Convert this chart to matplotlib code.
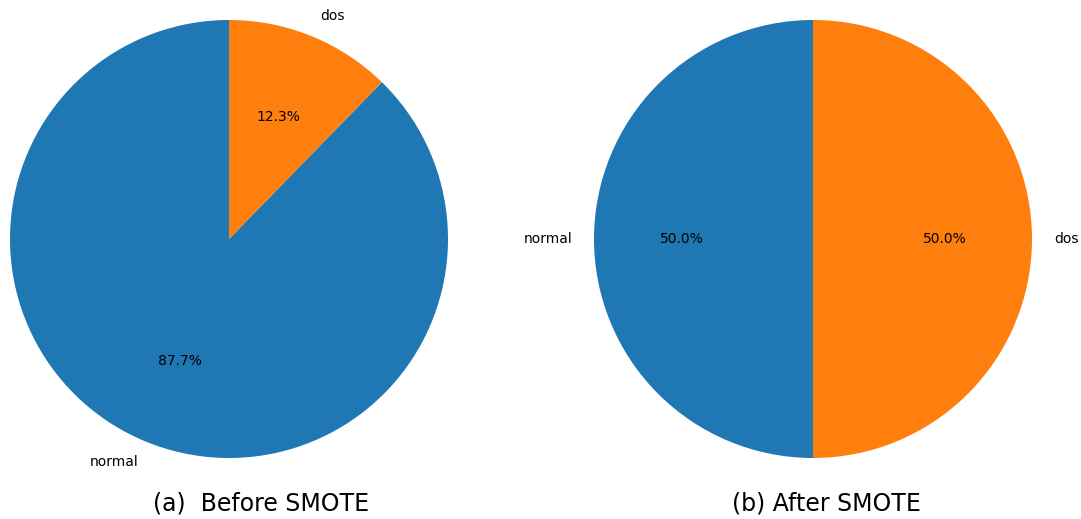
import matplotlib
matplotlib.use("Agg")
import matplotlib.pyplot as plt

# class counts as shares (percent)
labels = ["normal", "dos"]
before_smote = [87.7, 12.3]
after_smote = [50.0, 50.0]
colors = ["#1f77b4", "#ff7f0e"]

W, H = 1081, 519
fig = plt.figure(figsize=(W / 100, H / 100), dpi=100)


def pie_axes(cx, cy, r):
    # cx, cy in pixels from top-left, r in pixels
    return fig.add_axes([(cx - r) / W, (H - cy - r) / H, 2 * r / W, 2 * r / H])


ax1 = pie_axes(229, 239, 219)
ax1.pie(before_smote, labels=labels, colors=colors, autopct="%1.1f%%",
        startangle=90, textprops={"fontsize": 10})
ax1.set_xlim(-1, 1)
ax1.set_ylim(-1, 1)

ax2 = pie_axes(813, 239, 219)
ax2.pie(after_smote, labels=labels, colors=colors, autopct="%1.1f%%",
        startangle=90, textprops={"fontsize": 10})
ax2.set_xlim(-1, 1)
ax2.set_ylim(-1, 1)

fig.text(261 / W, 1 - 503 / H, "(a)  Before SMOTE", ha="center", va="center", fontsize=17)
fig.text(826 / W, 1 - 503 / H, "(b) After SMOTE", ha="center", va="center", fontsize=17)

fig.savefig("out.png", dpi=100)
